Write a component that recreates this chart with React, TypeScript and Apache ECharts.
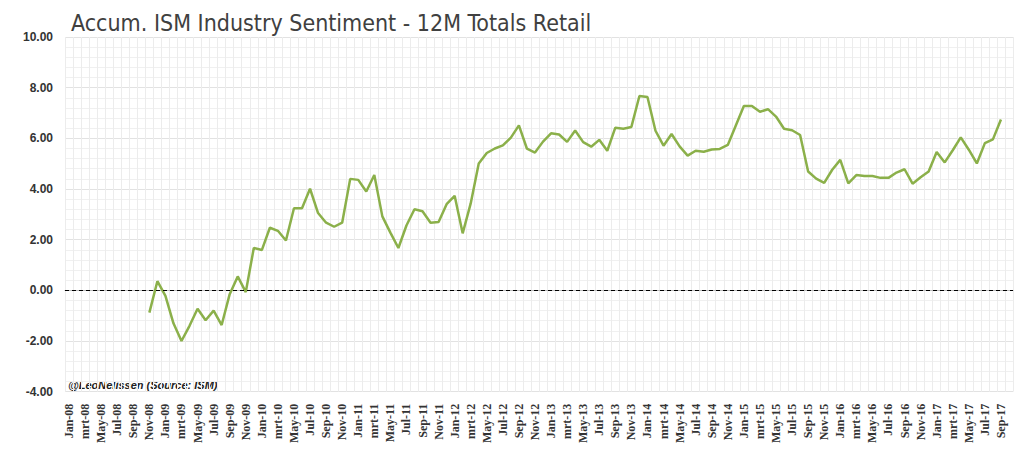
import { useEffect, useRef } from 'react';
import * as echarts from 'echarts';

const monthNames = ['Jan', 'Feb', 'mrt', 'Apr', 'May', 'Jun', 'Jul', 'Aug', 'Sep', 'Oct', 'Nov', 'Dec'];
const years = ['08', '09', '10', '11', '12', '13', '14', '15', '16', '17'];
const categories: string[] = [];
years.forEach((y) => monthNames.forEach((m) => categories.push(`${m}-${y}`)));
categories.splice(categories.indexOf('Oct-17') + 1);

// Nov-08 .. Sep-17
const values = [
  -0.88, 0.36,
  -0.22, -1.3, -2.0, -1.4, -0.73, -1.18, -0.8, -1.37, -0.15, 0.55, -0.07, 1.67,
  1.59, 2.47, 2.35, 1.97, 3.24, 3.24, 4.01, 3.05, 2.67, 2.51, 2.67, 4.4,
  4.36, 3.9, 4.55, 2.92, 2.28, 1.67, 2.56, 3.2, 3.12, 2.67, 2.7, 3.4,
  3.73, 2.25, 3.43, 5.01, 5.42, 5.6, 5.72, 6.03, 6.51, 5.59, 5.44, 5.87,
  6.2, 6.15, 5.86, 6.31, 5.85, 5.67, 5.94, 5.51, 6.42, 6.38, 6.45, 7.67,
  7.63, 6.3, 5.71, 6.17, 5.68, 5.32, 5.51, 5.47, 5.56, 5.58, 5.74, 6.51,
  7.28, 7.28, 7.05, 7.15, 6.86, 6.38, 6.32, 6.13, 4.69, 4.41, 4.24, 4.76,
  5.15, 4.22, 4.55, 4.51, 4.51, 4.44, 4.44, 4.65, 4.78, 4.21, 4.46, 4.69,
  5.46, 5.05, 5.53, 6.04, 5.55, 5.01, 5.81, 5.96, 6.74,
];
const seriesData: (number | null)[] = categories.map((_, i) => {
  const k = i - categories.indexOf('Nov-08');
  return k >= 0 && k < values.length ? values[k] : null;
});

export default function App() {
  const ref = useRef<HTMLDivElement>(null);

  useEffect(() => {
    if (!ref.current) return;
    const chart = echarts.init(ref.current, undefined, { renderer: 'svg' });
    chart.setOption({
      animation: false,
      title: {
        text: 'Accum. ISM Industry Sentiment - 12M Totals Retail',
        left: 58,
        top: -2,
        textStyle: { fontFamily: 'Liberation Sans Narrow, DejaVu Sans Condensed', fontSize: 23, fontWeight: 'normal', color: '#404040' },
      },
      grid: { left: 57, right: 2, top: 29, bottom: 47 },
      graphic: [
        {
          type: 'text',
          left: 60,
          top: 371,
          style: { text: '@LeoNelissen (Source: ISM)', font: 'italic bold 11px "Liberation Sans"', fill: '#222' },
        },
      ],
      xAxis: {
        type: 'category',
        data: categories,
        boundaryGap: true,
        axisLine: { lineStyle: { color: '#bbb' } },
        axisTick: { show: false },
        axisLabel: {
          rotate: 90,
          interval: 1,
          fontFamily: 'Liberation Serif',
          fontWeight: 'bold',
          fontSize: 12,
          color: '#333',
          margin: 12,
        },
        splitLine: { show: true, interval: 0, lineStyle: { color: '#ececec' } },
      },
      yAxis: {
        type: 'value',
        min: -4,
        max: 10,
        interval: 2,
        axisLine: { show: false },
        axisTick: { show: false },
        axisLabel: {
          formatter: (v: number) => v.toFixed(2),
          fontFamily: 'Liberation Sans',
          fontWeight: 'bold',
          fontSize: 12,
          color: '#333',
          margin: 12,
        },
        splitLine: { lineStyle: { color: '#e2e2e2' } },
        minorTick: { show: false, splitNumber: 5 },
        minorSplitLine: { show: true, lineStyle: { color: '#f0f0f0' } },
      },
      series: [
        {
          type: 'line',
          data: seriesData,
          symbol: 'none',
          lineStyle: { color: '#8bb04a', width: 2.5 },
          markLine: {
            silent: true,
            symbol: 'none',
            label: { show: false },
            lineStyle: { color: '#000', type: [4, 3], width: 1 },
            data: [{ yAxis: 0 }],
          },
        },
      ],
    });
    return () => chart.dispose();
  }, []);

  return <div ref={ref} style={{ width: 1007, height: 438 }} />;
}
